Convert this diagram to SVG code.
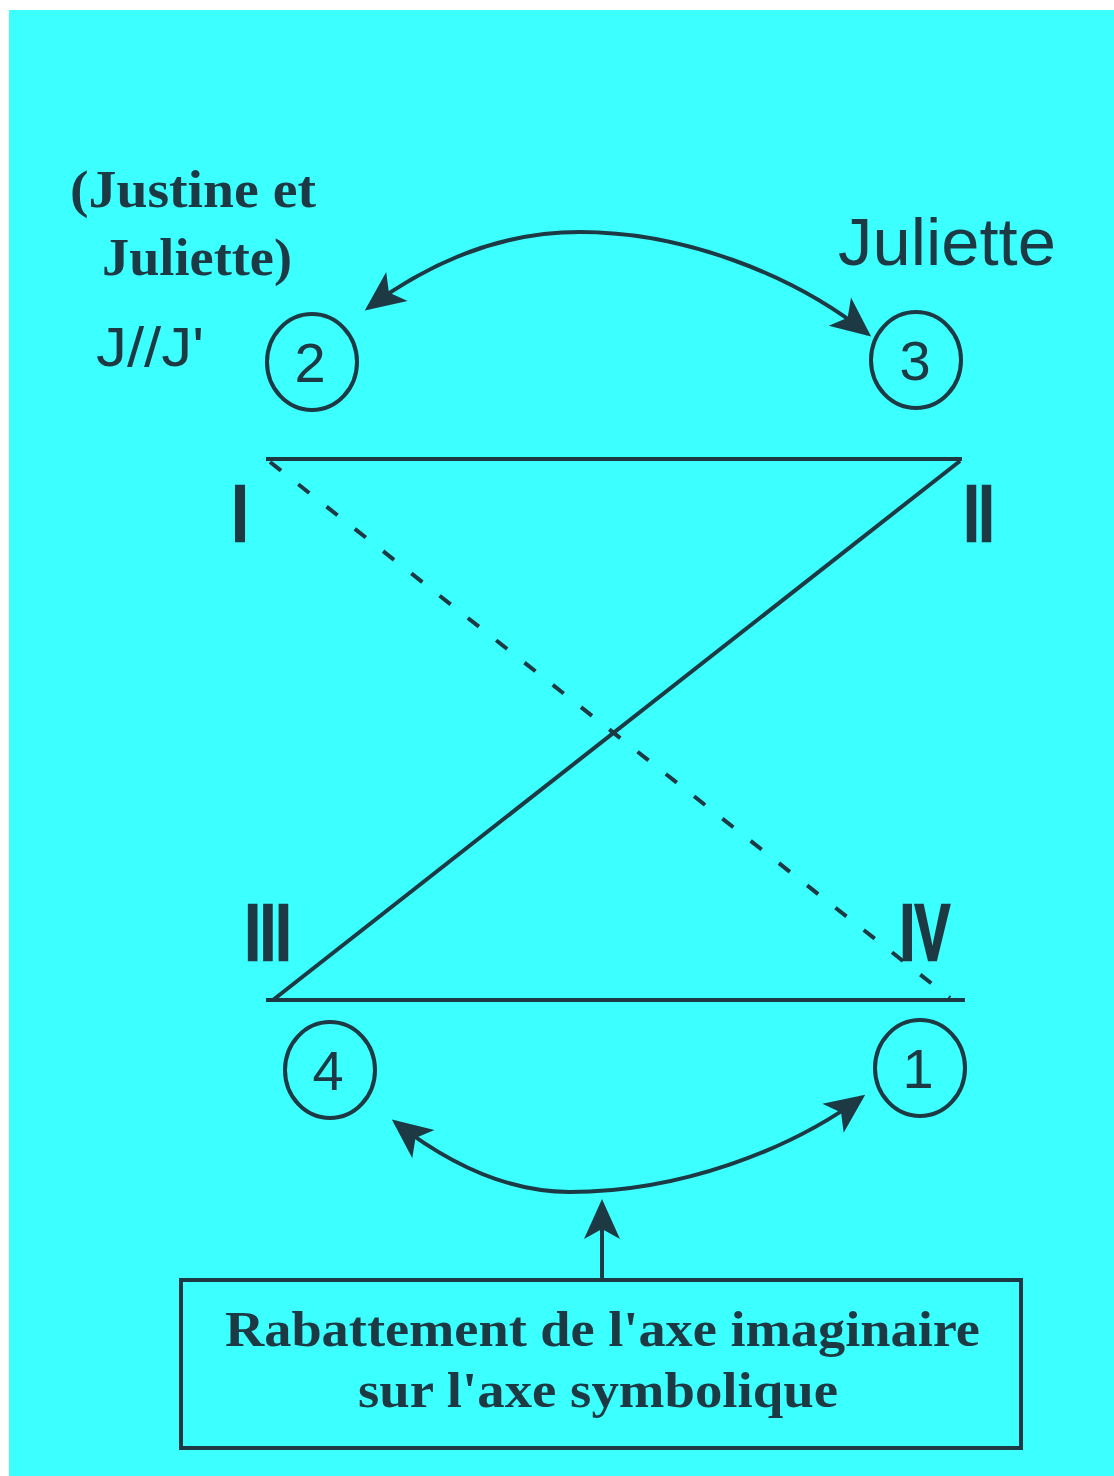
<svg xmlns="http://www.w3.org/2000/svg" width="1114" height="1476" viewBox="0 0 1114 1476">
<style>
.ink{stroke:#1d3a44;fill:none;stroke-width:4}
.serif{font-family:"Liberation Serif",serif;font-weight:bold;fill:#1d3a44}
.sans{font-family:"Liberation Sans",sans-serif;fill:#1d3a44}
.num{font-family:"Liberation Sans",sans-serif;fill:#1d3a44;font-size:56px;text-anchor:middle}
.roman{font-family:"Liberation Sans",sans-serif;font-weight:bold;fill:#1d3a44;stroke:#1d3a44;stroke-width:2.5;font-size:80px}
</style>
<defs>
<marker id="big" viewBox="0 0 10 10" refX="9" refY="5" markerWidth="11" markerHeight="10" orient="auto-start-reverse">
<path d="M0,0.5 L10,5 L0,9.5 L2.5,5 Z" fill="#1d3a44"/>
</marker>
</defs>
<rect x="0" y="0" width="1114" height="1476" fill="#ffffff"/>
<rect x="9" y="10" width="1105" height="1466" fill="#3cffff"/>

<g id="connectors">
<line class="ink" x1="266" y1="459" x2="962" y2="459"/>
<line class="ink" x1="266" y1="1000" x2="965" y2="1000"/>
<line class="ink" x1="960" y1="461" x2="273" y2="1000" stroke-width="3"/>
<line class="ink" x1="270" y1="462" x2="950" y2="998" stroke-width="3" stroke-dasharray="14,22"/>
<path class="ink" d="M368,308 C430,262 500,232 580,232 C680,232 790,272 868,334" stroke-width="3" marker-start="url(#big)" marker-end="url(#big)"/>
<path class="ink" d="M395,1122 C450,1165 510,1192 570,1192 C680,1192 790,1150 862,1097" stroke-width="3" marker-start="url(#big)" marker-end="url(#big)"/>
<line class="ink" x1="602" y1="1280" x2="602" y2="1203" stroke-width="3" marker-end="url(#big)"/>
</g>

<g id="node-2">
<ellipse class="ink" cx="312" cy="362" rx="45" ry="48"/>
<text class="num" x="310" y="382">2</text>
</g>
<g id="node-3">
<ellipse class="ink" cx="916" cy="360" rx="45" ry="48"/>
<text class="num" x="915" y="380">3</text>
</g>
<g id="node-4">
<ellipse class="ink" cx="330" cy="1070" rx="45" ry="48"/>
<text class="num" x="328" y="1090">4</text>
</g>
<g id="node-1">
<ellipse class="ink" cx="920" cy="1068" rx="45" ry="48"/>
<text class="num" x="918" y="1088">1</text>
</g>

<g id="labels">
<text class="serif" x="70" y="207" font-size="52" textLength="246" lengthAdjust="spacingAndGlyphs">(Justine et</text>
<text class="serif" x="102" y="275" font-size="52" textLength="190" lengthAdjust="spacingAndGlyphs">Juliette)</text>
<text class="sans" x="96" y="366" font-size="56" textLength="108" lengthAdjust="spacingAndGlyphs">J//J'</text>
<text class="sans" x="838" y="265" font-size="66" textLength="218" lengthAdjust="spacingAndGlyphs">Juliette</text>
<text class="roman" x="232" y="541" textLength="16" lengthAdjust="spacingAndGlyphs">I</text>
<text class="roman" x="964" y="541" textLength="30" lengthAdjust="spacingAndGlyphs">II</text>
<text class="roman" x="245" y="960" textLength="46" lengthAdjust="spacingAndGlyphs">III</text>
<text class="roman" x="900" y="960" textLength="50" lengthAdjust="spacingAndGlyphs">IV</text>
</g>

<g id="box">
<rect class="ink" x="181" y="1280" width="840" height="168"/>
<text class="serif" x="225" y="1346" font-size="50" textLength="755" lengthAdjust="spacingAndGlyphs">Rabattement de l'axe imaginaire</text>
<text class="serif" x="358" y="1407" font-size="50" textLength="480" lengthAdjust="spacingAndGlyphs">sur l'axe symbolique</text>
</g>
</svg>
